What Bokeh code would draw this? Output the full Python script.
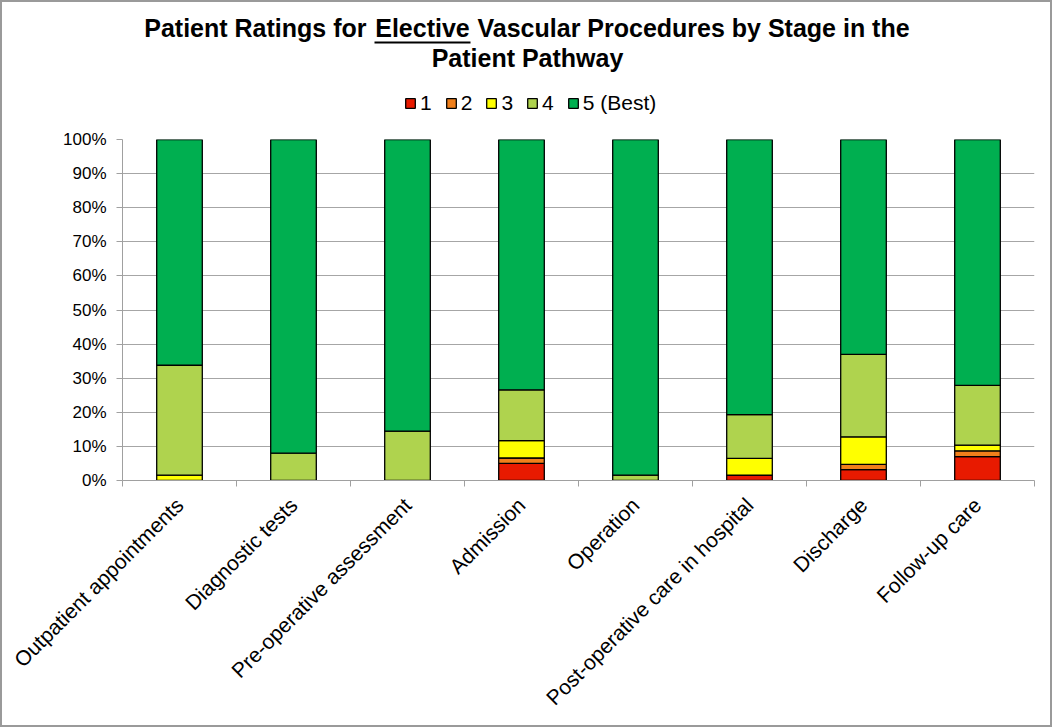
from math import pi
from bokeh.plotting import figure
from bokeh.layouts import column
from bokeh.models import (ColumnDataSource, Range1d, FixedTicker, LinearAxis,
                          PrintfTickFormatter, Legend)
from bokeh.core.properties import value
from bokeh.embed import file_html
from bokeh.resources import INLINE

categories = ["Outpatient appointments", "Diagnostic tests", "Pre-operative assessment",
              "Admission", "Operation", "Post-operative care in hospital",
              "Discharge", "Follow-up care"]
rating_1 = [0.0, 0.0, 0.0, 5.0, 0.0, 1.6, 3.2, 7.0]
rating_2 = [0.0, 0.0, 0.0, 1.6, 0.0, 0.0, 1.5, 1.7]
rating_3 = [1.6, 0.0, 0.0, 5.1, 0.0, 4.9, 8.1, 1.7]
rating_4 = [32.2, 8.0, 14.5, 14.9, 1.6, 12.8, 24.2, 17.5]
rating_5 = [66.2, 92.0, 85.5, 73.4, 98.4, 80.7, 63.0, 72.1]
series_names = ["1", "2", "3", "4", "5 (Best)"]
colors = ["#E81A00", "#F07F1B", "#FFFF00", "#AFD34E", "#00AF50"]
y_ticks = [0, 10, 20, 30, 40, 50, 60, 70, 80, 90, 100]
title_before = "Patient Ratings for"
title_underlined = "Elective"
title_after = "Vascular Procedures by Stage in the"
title_line2 = "Patient Pathway"

FONT = "Liberation Sans"
W = 1048
HH = 118
HM = 605
BL, BR = 120, 16   # shared left/right borders (frames are aligned in the column)

# ---------------- header (title + legend); data coords == page pixels ----------------
hdr = figure(width=W, height=HH, output_backend="svg", toolbar_location=None,
             x_range=Range1d(2 + BL, 2 + W - BR), y_range=Range1d(2 + HH, 2),
             min_border_left=BL, min_border_right=BR, min_border_top=0, min_border_bottom=0,
             x_axis_type=None, y_axis_type=None)
hdr.outline_line_color = None
hdr.grid.visible = False
hdr.background_fill_color = "white"
hdr.border_fill_color = "white"
tstyle = dict(text_font=value(FONT), text_font_size="25px", text_font_style="bold",
              text_color="black", text_baseline="alphabetic")
hdr.text(x=[366], y=[27.5], text=[title_before], text_align="right", **tstyle)
hdr.text(x=[422], y=[27.5], text=[title_underlined], text_align="center", **tstyle)
hdr.text(x=[477], y=[27.5], text=[title_after], text_align="left", **tstyle)
hdr.text(x=[527], y=[57], text=[title_line2], text_align="center", **tstyle)
hdr.segment(x0=[374], y0=[42], x1=[470], y1=[42], line_color="black", line_width=2)

nan = float("nan")
legend_src = ColumnDataSource(dict(x=[nan], top=[nan]))
dummies = [hdr.vbar(x="x", top="top", width=1, source=legend_src, fill_color=c,
                    line_color="black", line_width=1.3) for c in colors]
legend = Legend(items=[(n, [r]) for n, r in zip(series_names, dummies)],
                orientation="horizontal", location=(282, 5),
                glyph_width=12, glyph_height=12, label_standoff=4, spacing=13,
                label_width=0, padding=0, margin=0, border_line_color=None,
                background_fill_alpha=0,
                label_text_font=FONT, label_text_font_size="21px", label_text_color="black")
hdr.add_layout(legend, "center")

# ---------------- main chart ----------------
xs = [i + 0.5 for i in range(len(categories))]
keys = ["r1", "r2", "r3", "r4", "r5"]
source = ColumnDataSource(dict(x=xs, r1=rating_1, r2=rating_2, r3=rating_3,
                               r4=rating_4, r5=rating_5))

p = figure(width=W, height=HM, output_backend="svg", toolbar_location=None,
           x_range=Range1d(0, len(categories)), y_range=Range1d(0, 100),
           min_border_left=BL, min_border_right=BR, min_border_top=19,
           min_border_bottom=245, x_axis_type=None)
p.outline_line_color = None
p.background_fill_color = "white"
p.border_fill_color = "white"

p.vbar_stack(keys, x="x", width=0.4, source=source, color=colors,
             line_color="black", line_width=1.3)

yax = p.yaxis[0]
yax.ticker = FixedTicker(ticks=y_ticks)
yax.formatter = PrintfTickFormatter(format="%d%%")
yax.axis_line_color = "#a0a0a0"
yax.major_tick_line_color = "#a0a0a0"
yax.major_tick_out = 6
yax.major_tick_in = 0
yax.minor_tick_line_color = None
yax.major_label_text_font = FONT
yax.major_label_text_font_size = "17px"
yax.major_label_text_color = "black"
yax.major_label_standoff = 10
p.ygrid.ticker = FixedTicker(ticks=y_ticks)
p.ygrid.grid_line_color = "#a6a6a6"
p.ygrid.grid_line_width = 1

xax = LinearAxis(ticker=FixedTicker(ticks=xs, minor_ticks=list(range(len(categories) + 1))),
                 major_label_overrides={x: c for x, c in zip(xs, categories)})
xax.major_tick_line_color = None
xax.minor_tick_line_color = "#a0a0a0"
xax.minor_tick_out = 6
xax.minor_tick_in = 0
xax.axis_line_color = "#a0a0a0"
xax.major_label_orientation = pi / 4
xax.major_label_text_font = FONT
xax.major_label_text_font_size = "21px"
xax.major_label_text_color = "black"
xax.major_label_standoff = 15
p.add_layout(xax, "below")
p.xgrid.visible = False

layout = column(hdr, p, spacing=0)
layout.styles = {"border": "2px solid #9a9a9a"}

open("out.html", "w").write(file_html(layout, INLINE))
